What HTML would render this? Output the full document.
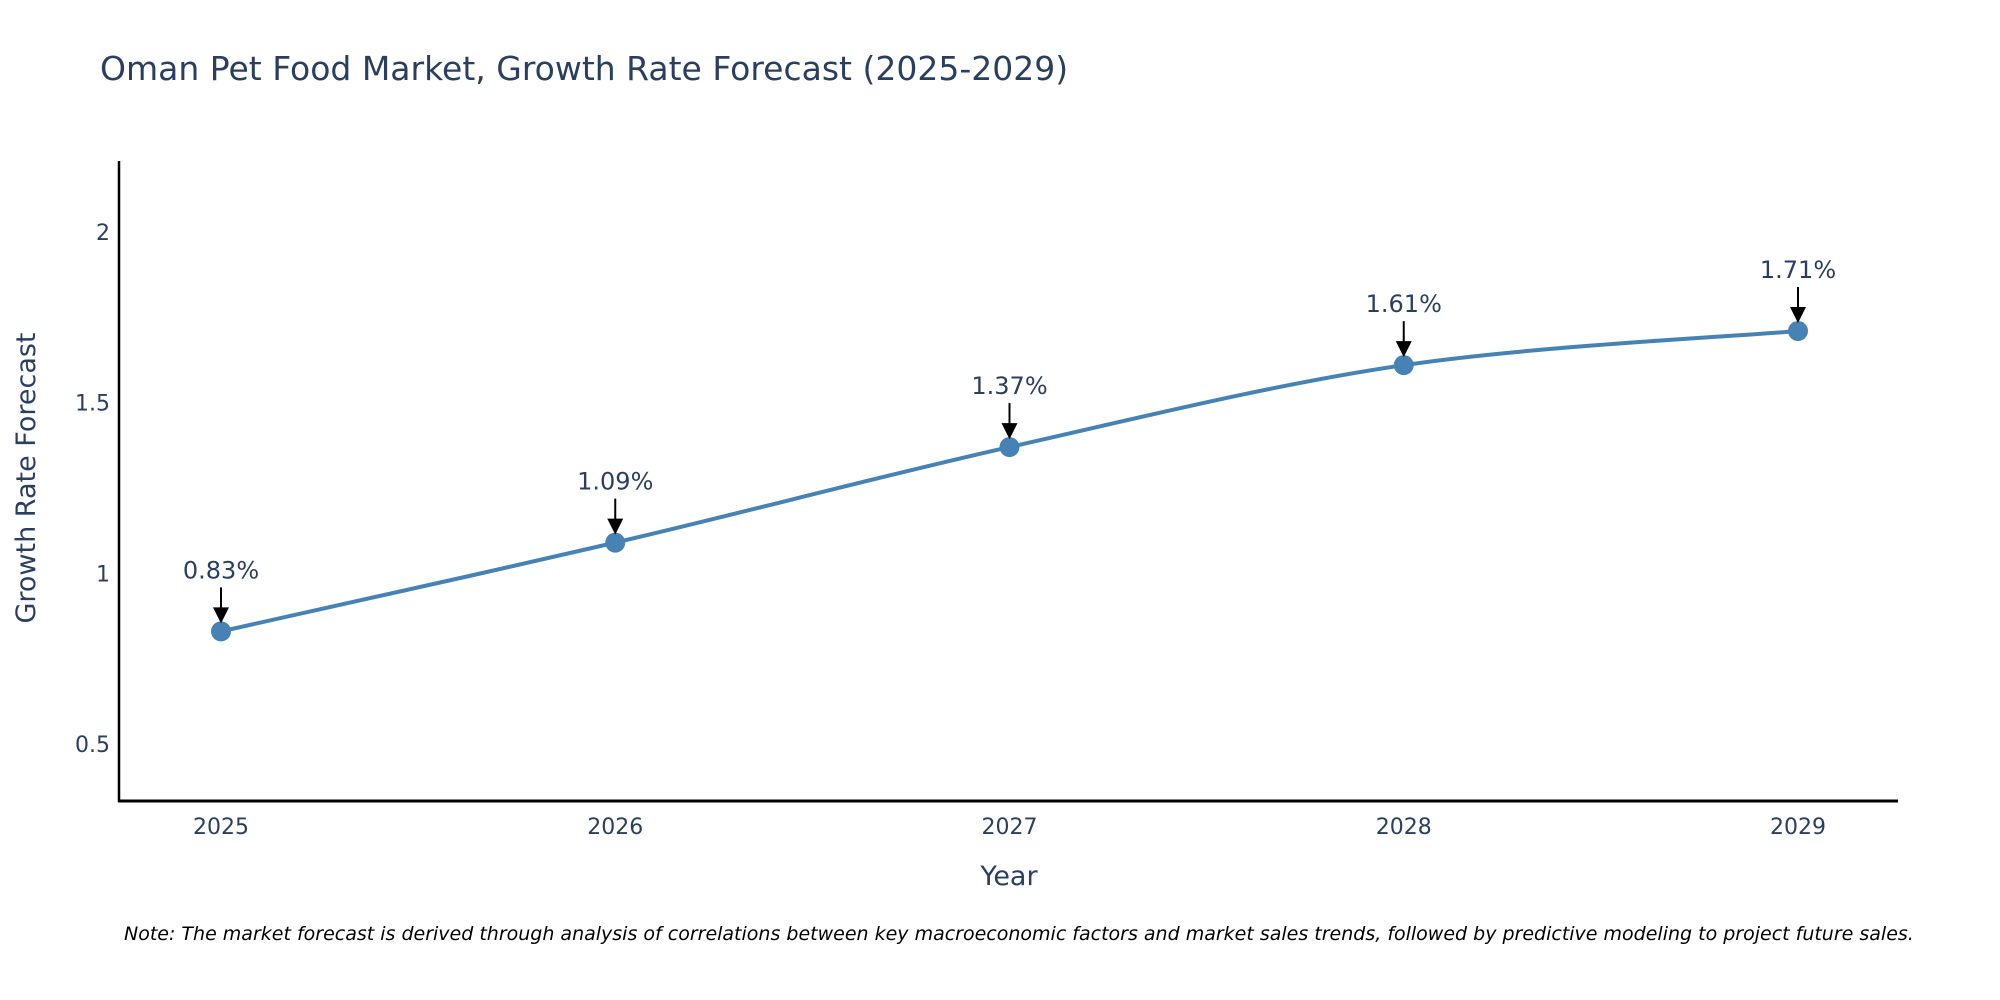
<!DOCTYPE html>
<html><head><meta charset="utf-8"><style>
html,body{margin:0;padding:0;background:#fff;}
svg{display:block;font-family:"DejaVu Sans","Liberation Sans",sans-serif;}
</style></head><body>
<svg id="chart" width="2000" height="1000" xmlns="http://www.w3.org/2000/svg">
<text x="100" y="80" font-size="33" fill="#2a3f5f">Oman Pet Food Market, Growth Rate Forecast (2025-2029)</text>
<g id="yticks"></g>
<g id="xticks"></g>
<path id="line" fill="none" stroke="#4682b4" stroke-width="4"/>
<g id="marks"></g>
<g id="annos"></g>
<line x1="119" y1="161" x2="119" y2="802" stroke="#000" stroke-width="2.5"/>
<line x1="118" y1="801" x2="1898" y2="801" stroke="#000" stroke-width="3"/>
<text x="1009" y="885" font-size="27" fill="#2a3f5f" text-anchor="middle">Year</text>
<text transform="translate(35,478) rotate(-90)" font-size="27" fill="#2a3f5f" text-anchor="middle">Growth Rate Forecast</text>
<text x="124" y="940" font-size="19" font-style="italic" fill="#000">Note: The market forecast is derived through analysis of correlations between key macroeconomic factors and market sales trends, followed by predictive modeling to project future sales.</text>
</svg>
<script>
const years = [2025, 2026, 2027, 2028, 2029];
const growth = [0.83, 1.09, 1.37, 1.61, 1.71];
const labels = ["0.83%", "1.09%", "1.37%", "1.61%", "1.71%"];
const yTicks = [0.5, 1, 1.5, 2];
const yTickLabels = ["0.5", "1", "1.5", "2"];

const NS = "http://www.w3.org/2000/svg";
function xs(yr){ return 221 + (yr - 2025) * 394.25; }
function ys(v){ return 744 - (v - 0.5) * 341.3; }
function mk(tag, attrs){ const e = document.createElementNS(NS, tag); for (const k in attrs) e.setAttribute(k, attrs[k]); return e; }

const yt = document.getElementById('yticks');
yTicks.forEach((v, i) => {
  const t = mk('text', {x: 110, y: ys(v) + 8, 'font-size': 22, fill: '#2a3f5f', 'text-anchor': 'end'});
  
  
  t.textContent = yTickLabels[i];
  yt.appendChild(t);
});
const xt = document.getElementById('xticks');
years.forEach(yr => {
  const t = mk('text', {x: xs(yr), y: 834, 'font-size': 22, fill: '#2a3f5f', 'text-anchor': 'middle'});
  
  
  t.textContent = String(yr);
  xt.appendChild(t);
});

const pts = years.map((yr, i) => [xs(yr), ys(growth[i])]);
let d = `M${pts[0][0]},${pts[0][1]}`;
for (let i = 0; i < pts.length - 1; i++) {
  const p0 = pts[Math.max(0, i - 1)], p1 = pts[i], p2 = pts[i + 1], p3 = pts[Math.min(pts.length - 1, i + 2)];
  const c1 = [p1[0] + (p2[0] - p0[0]) / 6, p1[1] + (p2[1] - p0[1]) / 6];
  const c2 = [p2[0] - (p3[0] - p1[0]) / 6, p2[1] - (p3[1] - p1[1]) / 6];
  d += ` C${c1[0]},${c1[1]} ${c2[0]},${c2[1]} ${p2[0]},${p2[1]}`;
}
document.getElementById('line').setAttribute('d', d);

const mg = document.getElementById('marks');
const ag = document.getElementById('annos');
pts.forEach((p, i) => {
  const c = mk('circle', {cx: p[0], cy: p[1], r: 10, fill: '#4682b4'});
  
  
  mg.appendChild(c);
  const l = mk('line', {x1: p[0], y1: p[1] - 44, x2: p[0], y2: p[1] - 20, stroke: '#000', 'stroke-width': 2});
  
  
  ag.appendChild(l);
  const h = mk('polygon', {points: `${p[0]-8},${p[1]-24} ${p[0]+8},${p[1]-24} ${p[0]},${p[1]-8}`, fill: '#000'});
  
  
  ag.appendChild(h);
  const t = mk('text', {x: p[0], y: p[1] - 53, 'font-size': 24, fill: '#2a3f5f', 'text-anchor': 'middle'});
  
  
  t.textContent = labels[i];
  ag.appendChild(t);
});
</script>
</body></html>
